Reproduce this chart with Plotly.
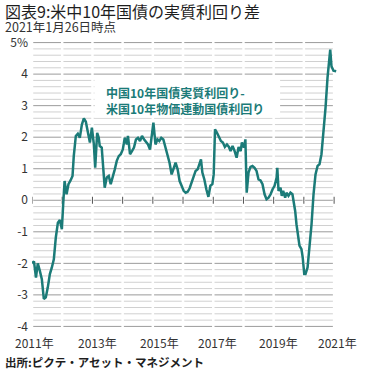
import datetime as dt
import plotly.graph_objects as go

# ---- data ----
dates = [
    "2011-01-01", "2011-01-25", "2011-02-18", "2011-03-12", "2011-04-05", "2011-04-30",
    "2011-05-24", "2011-06-17", "2011-07-11", "2011-08-05", "2011-08-29", "2011-09-22",
    "2011-10-16", "2011-11-10", "2011-12-04", "2011-12-28", "2012-01-13", "2012-01-30",
    "2012-02-23", "2012-03-17", "2012-04-11", "2012-05-05", "2012-05-20", "2012-06-14",
    "2012-07-08", "2012-08-01", "2012-08-26", "2012-09-19", "2012-10-13", "2012-11-07",
    "2012-12-01", "2012-12-25", "2013-01-18", "2013-02-03", "2013-02-27", "2013-03-18",
    "2013-03-30", "2013-04-23", "2013-05-17", "2013-05-29", "2013-06-23", "2013-07-17",
    "2013-08-10", "2013-09-04", "2013-09-28", "2013-10-22", "2013-11-15", "2013-12-09",
    "2014-01-03", "2014-01-27", "2014-02-21", "2014-03-06", "2014-03-31", "2014-04-24",
    "2014-05-18", "2014-06-11", "2014-07-05", "2014-07-30", "2014-08-23", "2014-09-16",
    "2014-10-10", "2014-11-04", "2014-11-28", "2014-12-22", "2015-01-08", "2015-02-02",
    "2015-02-26", "2015-03-20", "2015-04-13", "2015-05-08", "2015-06-04", "2015-06-28",
    "2015-07-22", "2015-08-16", "2015-09-09", "2015-10-03", "2015-10-28", "2015-11-21",
    "2015-12-15", "2016-01-09", "2016-02-02", "2016-02-26", "2016-03-21", "2016-04-14",
    "2016-05-08", "2016-06-01", "2016-06-26", "2016-07-20", "2016-08-05", "2016-08-22",
    "2016-09-15", "2016-10-09", "2016-11-03", "2016-11-27", "2016-12-21", "2017-01-06",
    "2017-01-22", "2017-02-15", "2017-03-10", "2017-04-03", "2017-04-27", "2017-05-21",
    "2017-06-15", "2017-07-09", "2017-07-29", "2017-08-22", "2017-09-16", "2017-10-10",
    "2017-11-03", "2017-11-28", "2017-12-13", "2018-01-07", "2018-01-24", "2018-02-09",
    "2018-03-03", "2018-03-27", "2018-04-20", "2018-05-15", "2018-06-08", "2018-07-02",
    "2018-07-26", "2018-08-19", "2018-09-13", "2018-10-07", "2018-10-31", "2018-11-25",
    "2018-12-19", "2019-01-12", "2019-02-06", "2019-02-14", "2019-03-01", "2019-03-25",
    "2019-04-09", "2019-04-26", "2019-05-20", "2019-06-05", "2019-06-29", "2019-07-23",
    "2019-08-16", "2019-09-01", "2019-09-18", "2019-10-04", "2019-11-09", "2019-12-03",
    "2019-12-18", "2020-01-06", "2020-01-21", "2020-02-15", "2020-03-10", "2020-04-03",
    "2020-04-27", "2020-05-21", "2020-06-15", "2020-07-08", "2020-08-01", "2020-08-25",
    "2020-09-19", "2020-10-13", "2020-11-06", "2020-11-15", "2020-11-30", "2020-12-24",
    "2021-01-26",
]
spread = [
    -2.00, -1.94, -2.45, -2.00, -2.23, -2.50,
    -3.13, -3.08, -2.76, -2.34, -2.13, -1.87,
    -1.18, -0.71, -0.63, -0.92, -0.13, 0.61,
    0.19, 0.51, 0.63, 0.77, 1.40, 2.04,
    2.11, 1.98, 2.40, 2.60, 2.49, 2.20,
    1.83, 2.30, 1.77, 1.03, 2.14, 1.98,
    1.72, 1.67, 0.98, 0.40, 0.72, 0.77,
    0.51, 0.72, 0.98, 1.25, 1.40, 1.46,
    1.61, 1.98, 1.77, 2.04, 1.46, 1.56,
    1.67, 1.93, 1.98, 1.88, 2.04, 1.93,
    1.86, 1.77, 1.61, 2.09, 2.46, 1.77,
    1.93, 1.88, 1.98, 1.93, 1.67, 1.35,
    1.19, 0.82, 1.03, 1.19, 0.98, 0.61,
    0.46, 0.30, 0.24, 0.27, 0.38, 0.56,
    0.77, 0.93, 0.98, 1.14, 1.30, 0.88,
    0.66, 0.35, 0.11, 0.46, 0.51, 0.82,
    2.25, 2.14, 2.00, 1.88, 1.83, 1.69,
    1.77, 1.69, 1.56, 1.72, 1.56, 1.35,
    1.69, 1.56, 1.83, 1.67, 1.93, 0.24,
    0.88, 1.06, 1.09, 1.03, 0.93, 0.66,
    0.63, 0.51, 0.19, 0.03, 0.08, 0.19,
    0.35, 0.46, 0.72, 1.03, 0.30, 0.40,
    0.14, 0.30, 0.08, 0.24, 0.14, 0.24,
    0.19, -0.02, -0.34, -0.76, -1.44, -1.55,
    -1.81, -2.34, -2.34, -2.13, -1.50, -0.76,
    0.19, 0.82, 1.09, 1.14, 1.46, 2.09,
    2.93, 3.88, 4.52, 4.78, 4.25, 4.11,
    4.09,
]

years = list(range(2011, 2022))
year_labels = ["2011年", "2013年", "2015年", "2017年", "2019年", "2021年"]
year_label_pos = ["2011-02-05", "2013-02-25", "2015-03-20", "2017-02-15", "2019-02-25", "2021-02-10"]
y_tickvals = [5, 4, 3, 2, 1, 0, -1, -2, -3, -4]
y_ticktext = ["5%", "4", "3", "2", "1", "0", "-1", "-2", "-3", "-4"]
minor_step = 0.2

title_text = "図表9:米中10年国債の実質利回り差"
subtitle_text = "2021年1月26日時点"
source_text = "出所:ピクテ・アセット・マネジメント"
series_label = "中国10年国債実質利回り-<br>米国10年物価連動国債利回り"

TEAL = "#1b7b78"
FONT = "Noto Sans CJK JP"
MAJOR_GRID = "#9b9b9b"
MINOR_GRID = "#d0d0d0"

W, H = 376, 375
L, R, T, B = 32, 37, 41, 47
pw, ph = W - L - R, H - T - B
X_RANGE = ["2011-01-01", "2021-03-01"]
Y_RANGE = [-4.05, 5.05]

fig = go.Figure()

# ---- gridlines broken into one block per year ----
gap = dt.timedelta(days=15)


def grid_xy(levels):
    xs, ys = [], []
    for lev in levels:
        for y0 in years[:-1]:
            a = dt.date(y0, 1, 1) + gap
            b = dt.date(y0 + 1, 1, 1) - gap
            xs += [a.isoformat(), b.isoformat(), None]
            ys += [lev, lev, None]
    return xs, ys


n_minor = int(round((y_tickvals[0] - y_tickvals[-1]) / minor_step))
all_levels = [round(y_tickvals[-1] + i * minor_step, 1) for i in range(n_minor + 1)]
minor_levels = [v for v in all_levels if abs(v - round(v)) > 1e-9]

mx, my = grid_xy(minor_levels)
fig.add_trace(go.Scatter(x=mx, y=my, mode="lines", line=dict(color=MINOR_GRID, width=1),
                         hoverinfo="skip", showlegend=False))
Mx, My = grid_xy(y_tickvals)
fig.add_trace(go.Scatter(x=Mx, y=My, mode="lines", line=dict(color=MAJOR_GRID, width=1),
                         hoverinfo="skip", showlegend=False))

# small tick marks on the zero line at each year boundary
fig.add_trace(go.Scatter(
    x=["%d-01-01" % y for y in years], y=[0] * len(years), mode="markers",
    marker=dict(symbol="line-ns", size=5, line=dict(width=1, color="#555555")),
    hoverinfo="skip", showlegend=False,
))

# white box behind the series label (covers gridlines, stays under the data line)
bx0, bx1, by0, by1 = "2013-01-25", "2019-03-20", 2.62, 3.97
fig.add_trace(go.Scatter(
    x=[bx0, bx1, bx1, bx0, bx0], y=[by0, by0, by1, by1, by0], mode="lines",
    fill="toself", fillcolor="white", line=dict(width=0, color="white"),
    hoverinfo="skip", showlegend=False,
))

fig.add_trace(go.Scatter(
    x=dates, y=spread, mode="lines",
    line=dict(color=TEAL, width=2.5),
    showlegend=False,
))


def px(xpix):
    return (xpix - L) / pw


def py(ypix):
    return (H - B - ypix) / ph


annotations = [
    dict(text=title_text, xref="paper", yref="paper", x=px(4), y=py(11), xanchor="left",
         yanchor="middle", showarrow=False, borderpad=0,
         font=dict(size=16, color="#1e1e1e", family=FONT)),
    dict(text=subtitle_text, xref="paper", yref="paper", x=px(4), y=py(27), xanchor="left",
         yanchor="middle", showarrow=False, borderpad=0,
         font=dict(size=12.5, color="#333333", family=FONT)),
    dict(text="<b>" + source_text + "</b>", xref="paper", yref="paper", x=px(4), y=py(362),
         xanchor="left", yanchor="middle", showarrow=False, borderpad=0,
         font=dict(size=11.5, color="#1e1e1e", family=FONT)),
    dict(text="<b>" + series_label + "</b>", xref="paper", yref="paper", x=px(104), y=py(101),
         xanchor="left", yanchor="middle", align="left", showarrow=False,
         font=dict(size=12, color=TEAL, family=FONT)),
]
for lab, pos in zip(year_labels, year_label_pos):
    annotations.append(dict(text=lab, xref="x", yref="paper", x=pos, y=py(342.5),
                            xanchor="center", yanchor="middle", showarrow=False,
                            font=dict(size=12, color="#333333", family=FONT)))

fig.update_layout(
    width=W, height=H,
    margin=dict(l=L, r=R, t=T, b=B, autoexpand=False),
    paper_bgcolor="white", plot_bgcolor="white",
    font=dict(family=FONT, color="#333333", size=12),
    annotations=annotations,
    hovermode=False,
    xaxis=dict(
        type="date", range=X_RANGE, automargin=False, fixedrange=True,
        showgrid=False, zeroline=False, showline=False, showticklabels=False, ticks="",
    ),
    yaxis=dict(
        range=Y_RANGE, tickvals=y_tickvals, ticktext=y_ticktext, automargin=False,
        fixedrange=True,
        showgrid=False, zeroline=False, showline=False, ticks="", ticklabelstandoff=3,
        tickfont=dict(size=12, color="#333333", family=FONT),
    ),
)

fig.write_html("out.html", config={"displayModeBar": False},
               post_script="document.body.style.margin='0';")
